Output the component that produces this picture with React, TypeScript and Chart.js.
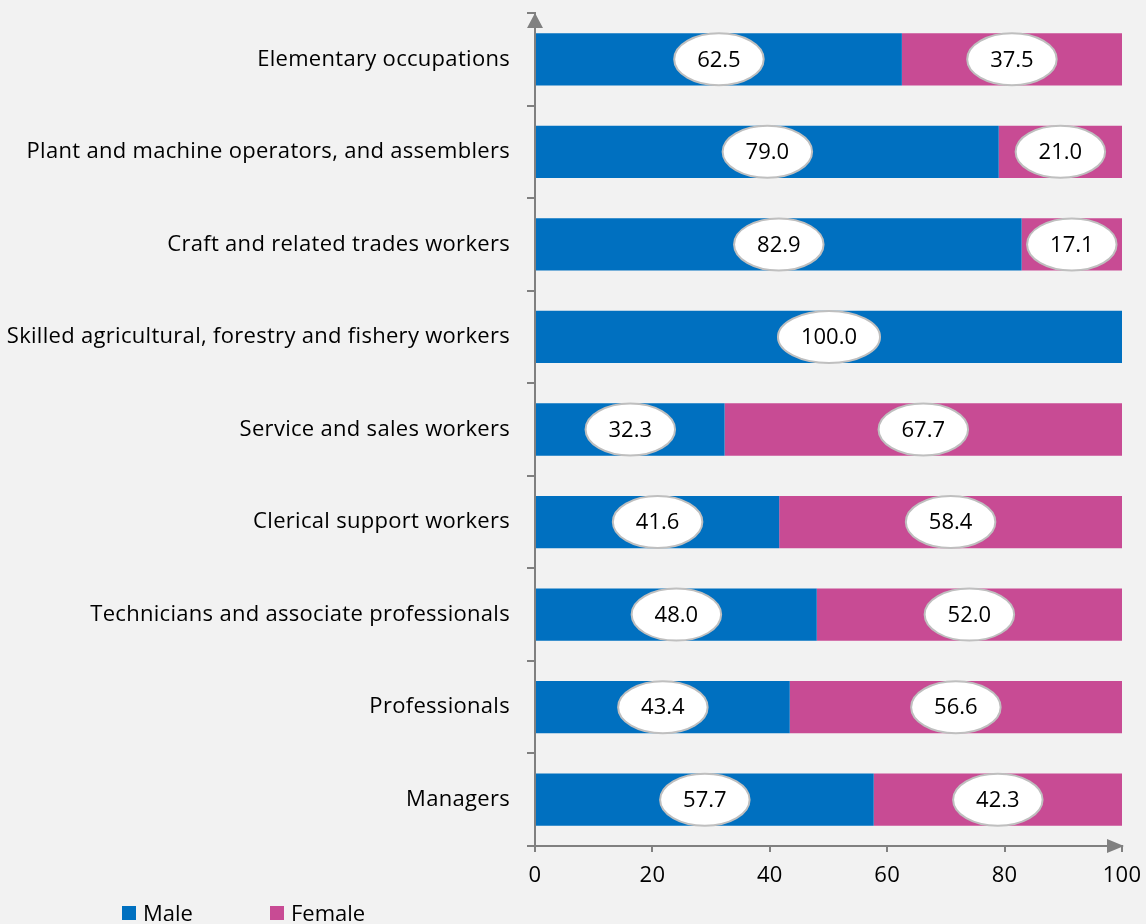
import React, { useEffect, useRef } from "react";
import { Chart, registerables } from "chart.js";

Chart.register(...registerables);

const categories = [
  "Elementary occupations",
  "Plant and machine operators, and assemblers",
  "Craft and related trades workers",
  "Skilled agricultural, forestry and fishery workers",
  "Service and sales workers",
  "Clerical support workers",
  "Technicians and associate professionals",
  "Professionals",
  "Managers",
];
const maleValues = [62.5, 79.0, 82.9, 100.0, 32.3, 41.6, 48.0, 43.4, 57.7];
const femaleValues = [37.5, 21.0, 17.1, 0, 67.7, 58.4, 52.0, 56.6, 42.3];
const seriesNames = ["Male", "Female"];
const seriesColors = ["#0070c0", "#c84b94"];
const xMin = 0;
const xMax = 100;
const xStep = 20;

const FONT = "'Open Sans', sans-serif";
const AXIS = "#808080";

const spacing = {
  id: "spacing",
  beforeDraw(chart: any) {
    chart.ctx.letterSpacing = "0.3px";
  },
  beforeDatasetsDraw(chart: any) {
    chart.ctx.letterSpacing = "0px";
  },
};

const ellipseLabels = {
  id: "ellipseLabels",
  afterDatasetsDraw(chart: any) {
    const ctx = chart.ctx;
    ctx.save();
    ctx.font = `22px ${FONT}`;
    ctx.textAlign = "center";
    ctx.textBaseline = "middle";
    chart.data.datasets.forEach((ds: any, di: number) => {
      const meta = chart.getDatasetMeta(di);
      meta.data.forEach((bar: any, i: number) => {
        const v = ds.data[i];
        if (!v) return;
        const cx = (bar.x + bar.base) / 2;
        const cy = bar.y;
        const text = v.toFixed(1);
        const tw = ctx.measureText(text).width;
        const rx = tw / 2 + 23;
        const ry = 26;
        ctx.beginPath();
        ctx.ellipse(cx, cy, rx, ry, 0, 0, Math.PI * 2);
        ctx.fillStyle = "#ffffff";
        ctx.fill();
        ctx.lineWidth = 2;
        ctx.strokeStyle = "#bfbfbf";
        ctx.stroke();
        ctx.fillStyle = "#000000";
        ctx.fillText(text, cx, cy + 1);
      });
    });
    ctx.restore();
  },
};

const axisArrows = {
  id: "axisArrows",
  afterDraw(chart: any) {
    const ctx = chart.ctx;
    const { left, top, right, bottom } = chart.chartArea;
    ctx.save();
    ctx.fillStyle = AXIS;
    ctx.beginPath();
    ctx.moveTo(left, top);
    ctx.lineTo(left - 8, top + 15);
    ctx.lineTo(left + 8, top + 15);
    ctx.closePath();
    ctx.fill();
    ctx.beginPath();
    ctx.moveTo(right + 2, bottom);
    ctx.lineTo(right - 15, bottom - 7);
    ctx.lineTo(right - 15, bottom + 7);
    ctx.closePath();
    ctx.fill();
    ctx.restore();
  },
};

const customLegend = {
  id: "customLegend",
  afterDraw(chart: any) {
    const ctx = chart.ctx;
    const xs = [122, 270];
    ctx.save();
    ctx.font = `22px ${FONT}`;
    ctx.textBaseline = "middle";
    ctx.textAlign = "left";
    seriesNames.forEach((name, i) => {
      ctx.fillStyle = seriesColors[i];
      ctx.fillRect(xs[i], 906, 14, 14);
      ctx.fillStyle = "#000000";
      ctx.fillText(name, xs[i] + 21, 915);
    });
    ctx.restore();
  },
};

export default function App() {
  const ref = useRef<HTMLCanvasElement | null>(null);
  useEffect(() => {
    document.body.style.margin = "0";
    document.body.style.background = "#f2f2f2";
    const chart = new Chart(ref.current as HTMLCanvasElement, {
      type: "bar",
      data: {
        labels: categories,
        datasets: [
          { label: seriesNames[0], data: maleValues, backgroundColor: seriesColors[0], barPercentage: 0.565, categoryPercentage: 1 },
          { label: seriesNames[1], data: femaleValues, backgroundColor: seriesColors[1], barPercentage: 0.565, categoryPercentage: 1 },
        ],
      },
      options: {
        indexAxis: "y",
        animation: false,
        responsive: true,
        maintainAspectRatio: false,
        layout: { padding: { top: 13, right: 24, left: 0, bottom: 0 } },
        plugins: { legend: { display: false }, tooltip: { enabled: false } },
        scales: {
          x: {
            stacked: true,
            min: xMin,
            max: xMax,
            ticks: { stepSize: xStep, color: "#000", font: { family: FONT, size: 22 }, padding: 11 },
            grid: { drawOnChartArea: false, drawTicks: true, tickLength: 6, color: AXIS, lineWidth: 2 },
            border: { display: true, color: AXIS, width: 2 },
            afterFit: (s: any) => { s.height = 78; s.paddingLeft = 0; s.paddingRight = 0; },
          },
          y: {
            stacked: true,
            offset: true,
            ticks: { color: "#000", font: { family: FONT, size: 22 }, padding: 17 },
            grid: { offset: true, drawOnChartArea: false, drawTicks: true, tickLength: 8, color: AXIS, lineWidth: 2 },
            border: { display: true, color: AXIS, width: 2 },
            afterFit: (s: any) => { s.width = 535; s.paddingTop = 0; s.paddingBottom = 0; },
          },
        },
      },
      plugins: [spacing, ellipseLabels, axisArrows, customLegend],
    });
    return () => chart.destroy();
  }, []);
  return (
    <div style={{ position: "absolute", left: 0, top: 0, width: 1146, height: 924, background: "#f2f2f2" }}>
      <canvas ref={ref} />
    </div>
  );
}
